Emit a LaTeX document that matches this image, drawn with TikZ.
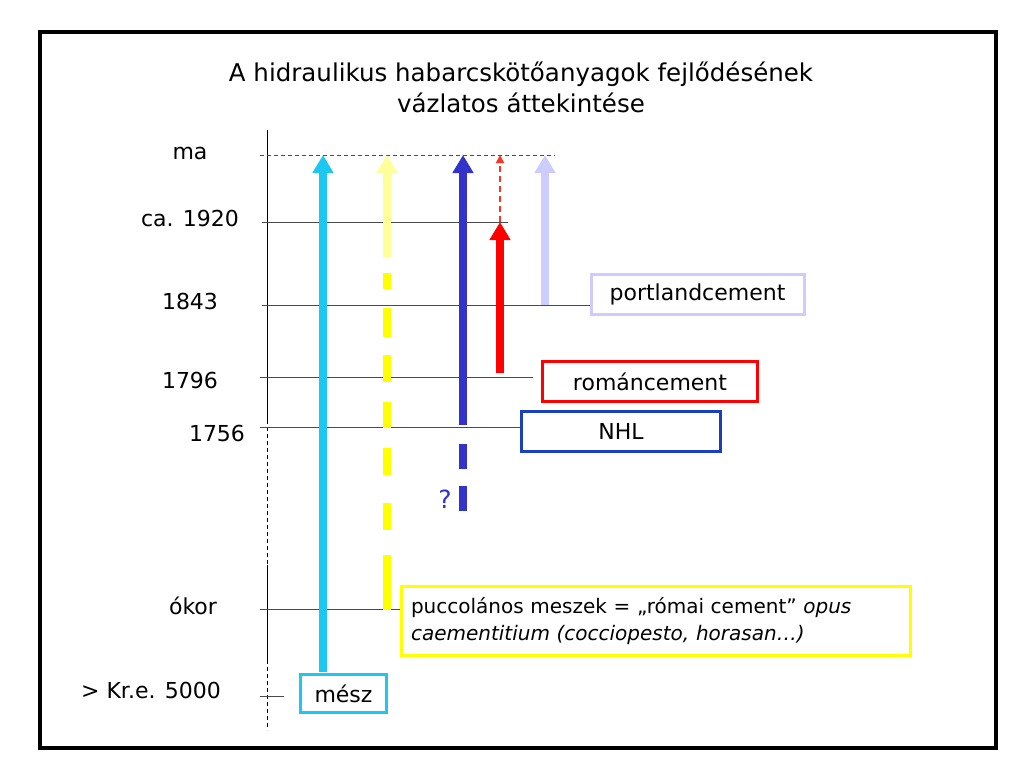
\documentclass[tikz,border=0pt]{standalone}
\usepackage{fontspec}
\setmainfont{DejaVu Sans}
\usetikzlibrary{arrows.meta}
\definecolor{cyanA}{HTML}{1CC7F2}
\definecolor{yelA}{HTML}{FFFF00}
\definecolor{yelP}{HTML}{FFFF99}
\definecolor{blueA}{HTML}{3333CC}
\definecolor{redA}{HTML}{FF0000}
\definecolor{redT}{HTML}{FF3322}
\definecolor{lavA}{HTML}{CCCCFF}
\definecolor{nhlB}{HTML}{1A40C0}
\definecolor{gridc}{HTML}{4A4A4A}
\begin{document}
\begin{tikzpicture}[x=1pt,y=-1pt,
  font=\fontsize{22}{26}\selectfont,
  fat/.style={line width=8pt,-{Triangle[width=20pt,length=18pt]}},
  bar/.style={line width=8pt},
  tick/.style={draw=gridc,line width=0.9pt},
  lbl/.style={inner sep=0pt},
  box/.style={draw,line width=3pt,fill=white,minimum height=40pt,inner sep=0pt}]
\useasboundingbox (0,0) rectangle (1024,768);
\fill[white] (0,0) rectangle (1024,768);
\draw[line width=4pt] (40,32) rectangle (996,748);

% title
\node[lbl,align=center,font=\fontsize{24.5}{31}\selectfont] (title) at (521,87)
  {A hidraulikus habarcskötőanyagok fejlődésének\\vázlatos áttekintése};

% axis labels
\node[lbl] (lma)   at (190,153) {ma};
\node[lbl] (l1920) at (190,218) {ca. 1920};
\node[lbl] (l1843) at (190,301) {1843};
\node[lbl] (l1796) at (190,380) {1796};
\node[lbl] (l1756) at (217,433) {1756};
\node[lbl] (lokor) at (193,606) {ókor};
\node[lbl] (lkr)   at (151,690) {> Kr.e. 5000};

% boxes
\node[box,draw=lavA,minimum width=213pt] (portland) at (697.5,294.5) {portlandcement};
\node[box,draw=redA,minimum width=215pt] (roman) at (650,381.5) {románcement};
\node[box,draw=nhlB,minimum width=199pt] (nhl) at (621,431.5) {NHL};
\node[box,draw=yelA,minimum width=509pt,minimum height=69pt,text width=490pt,align=left,
      font=\fontsize{20}{27}\selectfont] (pucc) at (656,621)
  {puccolános meszek = „római cement” \textit{opus}\\\textit{caementitium (cocciopesto, horasan…)}};
\node[box,draw=cyanA,minimum width=86pt,minimum height=38pt] (mesz) at (343.5,693.5) {mész};

% time axis
\coordinate (axT) at (267,130);
\coordinate (axA) at (267,420);
\coordinate (axB) at (267,565);
\coordinate (axC) at (267,660);
\coordinate (axD) at (267,730);
\draw[line width=0.9pt] (axT) -- (axA);
\draw[line width=0.9pt,dash pattern=on 4pt off 3pt] (axA) -- (axB);
\draw[line width=0.9pt] (axB) -- (axC);
\draw[line width=0.9pt,dash pattern=on 4pt off 3pt] (axC) -- (axD);

% level lines
\coordinate (tma) at (260,155);
\coordinate (ema) at (555,155);
\coordinate (t1920) at (262,222);
\coordinate (e1920) at (508,222);
\coordinate (t1843) at (262,305);
\coordinate (t1796) at (260,377);
\coordinate (t1756) at (260,427);
\coordinate (tokor) at (260,609);
\coordinate (tkr) at (260,696);
\coordinate (ekr) at (284,696);
\draw[gridc,line width=0.9pt,dash pattern=on 4pt off 3pt] (tma) -- (ema);
\draw[tick] (t1920) -- (e1920);
\draw[tick] (t1843) -- (portland.west |- t1843);
\draw[tick] (t1796) -- (533,377);
\draw[tick] (t1756) -- (nhl.west |- t1756);
\draw[tick] (tokor) -- (pucc.west |- tokor);
\draw[tick] (tkr) -- (ekr);

% cyan (mész)
\coordinate (cB) at (323,672);
\coordinate (cT) at (323,155);
\draw[fat,cyanA] (cB) -- (cT);

% yellow (puccolán)
\coordinate (yP) at (387,257);
\coordinate (yT) at (387,155);
\draw[fat,yelP] (yP) -- (yT);
\foreach \a/\b in {273/289,308/337,355/382,402/428,448/475,503/530,555/610}
  \draw[bar,yelA] (387,\a) -- (387,\b);

% blue (NHL)
\coordinate (bB) at (463,425);
\coordinate (bT) at (463,155);
\draw[fat,blueA] (bB) -- (bT);
\draw[bar,blueA] (463,444) -- (463,469);
\draw[bar,blueA] (463,486) -- (463,511);
\node[lbl,text=blueA,font=\fontsize{25}{28}\selectfont] (qm) at (445,499) {?};

% red (románcement)
\coordinate (rB) at (500,373);
\coordinate (rM) at (500,222);
\coordinate (rT) at (500,155);
\draw[fat,redA] (rB) -- (rM);
\draw[redT,line width=1.6pt,dash pattern=on 6pt off 4pt,-{Triangle[width=8pt,length=8pt]}] (rM) -- (rT);

% lavender (portlandcement)
\coordinate (pB) at (545,305);
\coordinate (pT) at (545,155);
\draw[fat,lavA] (pB) -- (pT);
\end{tikzpicture}
\end{document}
